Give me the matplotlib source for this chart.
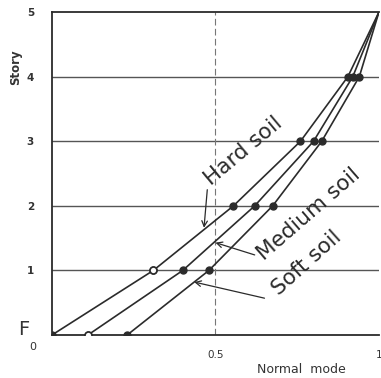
import matplotlib
matplotlib.use("Agg")
import matplotlib.pyplot as plt

stories = [0, 1, 2, 3, 4, 5]
hard_soil = [0.0, 0.31, 0.555, 0.76, 0.905, 1.0]
medium_soil = [0.11, 0.40, 0.62, 0.80, 0.92, 1.0]
soft_soil = [0.23, 0.48, 0.675, 0.825, 0.94, 1.0]
x_ticks = [0.5, 1.0]
x_tick_labels = ["0.5", "1"]
y_ticks = [1, 2, 3, 4, 5]
y_tick_labels = ["1", "2", "3", "4", "5"]

ink = "#2b2b2b"
fig = plt.figure(figsize=(3.81, 3.78), dpi=100)
ax = fig.add_axes([0.1365, 0.1138, 0.858, 0.854])
ax.set_xlim(0, 1.0)
ax.set_ylim(0, 5)

for s in [1, 2, 3, 4]:
    ax.axhline(s, color="#555555", lw=1.0, zorder=1)
ax.axvline(0.5, color="#777777", lw=0.8, ls=(0, (6, 3)), zorder=1)

for xs in (hard_soil, medium_soil, soft_soil):
    ax.plot(xs, stories, color=ink, lw=1.2, zorder=2)
    ax.plot(xs[:-1], stories[:-1], "o", color=ink, ms=5, zorder=3)
# hollow markers
ax.plot([hard_soil[1]], [stories[1]], "o", mfc="white", mec=ink, mew=1.2, ms=5, zorder=4)
ax.plot([medium_soil[0]], [stories[0]], "o", mfc="white", mec=ink, mew=1.2, ms=5, zorder=4)

for sp in ["left", "bottom", "top"]:
    ax.spines[sp].set_color(ink)
    ax.spines[sp].set_linewidth(1.3)
ax.spines["right"].set_visible(False)

ax.set_xticks(x_ticks)
ax.set_xticklabels(x_tick_labels, fontsize=7.5, color="#333333")
ax.set_yticks(y_ticks)
ax.set_yticklabels(y_tick_labels, fontsize=7.5, color="#333333", fontweight="bold")
ax.tick_params(length=0, pad=13)
ax.tick_params(axis="x", pad=11)

ax.text(-0.06, -0.19, "0", fontsize=8, color="#333333", ha="center", va="center", clip_on=False)
ax.text(-0.085, 0.08, "F", fontsize=14, color="#333333", ha="center", va="center", clip_on=False)
fig.text(0.04, 0.823, "Story", rotation=90, fontsize=8.5, fontweight="bold", color="#333333", ha="center", va="center")
fig.text(0.79, 0.022, "Normal  mode", fontsize=9, color="#333333", ha="center", va="center")

ax.text(0.585, 2.85, "Hard soil", rotation=40, fontsize=15.5, color=ink, ha="center", va="center", rotation_mode="anchor")
ax.text(0.785, 1.87, "Medium soil", rotation=41, fontsize=15.5, color=ink, ha="center", va="center", rotation_mode="anchor")
ax.text(0.78, 1.12, "Soft soil", rotation=42, fontsize=15.5, color=ink, ha="center", va="center", rotation_mode="anchor")

arr = dict(arrowstyle="->", color=ink, lw=0.9, shrinkA=0, shrinkB=0)
ax.annotate("", xy=(0.465, 1.66), xytext=(0.475, 2.25), arrowprops=arr)
ax.annotate("", xy=(0.50, 1.43), xytext=(0.62, 1.24), arrowprops=arr)
ax.annotate("", xy=(0.435, 0.82), xytext=(0.65, 0.57), arrowprops=arr)

fig.savefig("out.png", dpi=100, facecolor="white")
